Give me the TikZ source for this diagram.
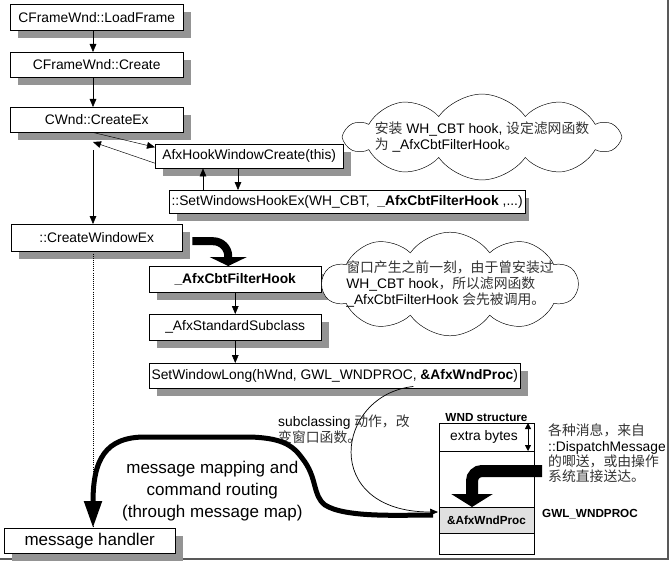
\documentclass[tikz,border=0pt]{standalone}
\usepackage{fontspec}
\setmainfont{Liberation Sans}
\newfontfamily\cjk{Noto Sans CJK SC}
\usetikzlibrary{arrows.meta,shapes.symbols,positioning}

\newcommand{\zh}[1]{{\cjk\color{black!80}#1}}
% shadow of a box: \boxshadow{x1}{y1}{x2}{y2}
\newcommand{\boxshadow}[4]{\fill[black!42] (#1+8,#2+8) rectangle (#3+8,#4+8);}

\begin{document}
\begin{tikzpicture}[x=0.03cm, y=-0.03cm, font=\fontsize{11.8}{13.6}\selectfont,
  fn/.style={draw, fill=white, inner xsep=2pt, inner ysep=0pt, anchor=north west},
  arr/.style={-{Triangle[length=0.24cm, width=0.2cm]}},
  fat/.style={line width=0.24cm, rounded corners=0.45cm, -{Triangle[length=0.27cm, width=1.11cm]}},
  hand/.style={line width=0.15cm, -{Triangle[length=0.81cm, width=0.51cm]}},
  note/.style={cloud, draw, fill=white, cloud puffs=10, cloud puff arc=110, cloud ignores aspect, align=left, inner ysep=0pt},
  row/.style={draw, minimum width=2.85cm, inner sep=0pt, outer sep=0pt}]
  \useasboundingbox (0,0) rectangle (671,563);
  \draw[black!65, line width=0.08cm] (0,559) -- (668,559) -- (668,0);

  % call chain
  \boxshadow{10}{4}{183}{30}
  \node[fn, minimum width=5.19cm, minimum height=0.78cm] (lf) at (10,4) {CFrameWnd::LoadFrame};
  \boxshadow{10}{52}{183}{77}
  \node[fn, minimum width=5.19cm, minimum height=0.75cm] (cr) at (10,52) {CFrameWnd::Create};
  \boxshadow{10}{107}{183}{132}
  \node[fn, minimum width=5.19cm, minimum height=0.75cm] (cx) at (10,107) {CWnd::CreateEx};
  \boxshadow{155}{144}{343}{168}
  \node[fn, minimum width=5.64cm, minimum height=0.72cm] (hk) at (155,144) {AfxHookWindowCreate(this)};
  \boxshadow{169}{190}{521}{213}
  \node[fn, minimum width=10.56cm, minimum height=0.69cm] (sw) at (169,190) {::SetWindowsHookEx(WH\_CBT,\ \ \textbf{\_AfxCbtFilterHook} ,...)};
  \boxshadow{11}{224}{182}{251}
  \node[fn, minimum width=5.13cm, minimum height=0.81cm] (cw) at (11,224) {::CreateWindowEx};
  \boxshadow{149}{266}{321}{292}
  \node[fn, minimum width=5.16cm, minimum height=0.78cm] (fh) at (149,266) {\textbf{\_AfxCbtFilterHook}};
  \boxshadow{149}{314}{321}{340}
  \node[fn, minimum width=5.16cm, minimum height=0.78cm] (ss) at (149,314) {\_AfxStandardSubclass};
  \boxshadow{149}{363}{520}{388}
  \node[fn, minimum width=11.13cm, minimum height=0.75cm] (sl) at (149,363) {SetWindowLong(hWnd, GWL\_WNDPROC, \textbf{\&AfxWndProc})};
  \boxshadow{4}{528}{175}{553}
  \node[fn, minimum width=5.13cm, minimum height=0.75cm, font=\fontsize{14.5}{16.5}\selectfont] (mh) at (4,528) {message handler};

  % notes
  \node[note, inner xsep=-7pt, minimum height=1.75cm] (n1) at (482,137)
    {\zh{安装} WH\_CBT hook, \zh{设定滤网函数}\\\zh{为} \_AfxCbtFilterHook\zh{。}};
  \node[note, inner xsep=-11pt, minimum height=2.8cm] (n2) at (450,284)
    {\zh{窗口产生之前一刻，由于曾安装过}\\WH\_CBT hook\zh{，所以滤网函数}\\\_AfxCbtFilterHook \zh{会先被调用。}};
  \node[anchor=north west, align=left, inner sep=0pt] (sc) at (278,415)
    {subclassing \zh{动作，改}\\\zh{变窗口函数。}};
  \node[anchor=west, font=\fontsize{14.5}{19}\selectfont, align=center] (mm) at (118,491)
    {message mapping and\\command routing\\(through message map)};

  % WND structure
  \node[row, minimum height=0.84cm, anchor=north west] (xb) at (439,423) {};
  \node[row, minimum height=1.68cm, below=0pt of xb] (gp) {};
  \node[row, minimum height=0.78cm, fill=black!12, below=0pt of gp, font=\bfseries] (wp) {\&AfxWndProc};
  \node[row, minimum height=0.63cm, below=0pt of wp] (tl) {};
  \node[above=0pt of xb, font=\bfseries, inner sep=1pt] (ws) {WND structure};
  \node[anchor=east, inner sep=0pt] (eb) at ([xshift=-0.48cm]xb.east) {extra bytes};
  \node[anchor=west, font=\bfseries] (gw) at (538,514) {GWL\_WNDPROC};
  \node[anchor=north west, align=left, inner sep=0pt, font=\fontsize{11.8}{13}\selectfont] (dm) at (548,424)
    {\zh{各种消息，来自}\\::DispatchMessage\\\zh{的唧送，或由操作}\\\zh{系统直接送达。}};

  \coordinate (col) at (93,0);
  \coordinate (up) at (203,0);
  \coordinate (dn) at (238,0);
  \coordinate (ret) at (93,142);
  \coordinate (back) at (93,150);
  \coordinate (msgin) at (542,471);

  \draw[arr] (lf.south -| col) -- (cr.north -| col);
  \draw[arr] (cr.south -| col) -- (cx.north -| col);
  \draw[arr] (cx.south -| col) -- ([yshift=0.27cm]hk.west);
  \draw[arr] ([yshift=-0.21cm]hk.west) -- (ret);
  \draw[arr] (back) -- (cw.north -| col);
  \draw[arr] (sw.north -| up) -- (hk.south -| up);
  \draw[arr] (hk.south -| dn) -- (sw.north -| dn);
  \draw[fat] ([xshift=0.3cm, yshift=-0.105cm]cw.east) -| ([xshift=-0.21cm]fh.north);
  \draw[arr] (fh.south -| ss.north) -- (ss.north);
  \draw[arr] (ss.south) -- (ss.south |- sl.north);
  \draw[densely dotted, thick] (cw.south -| col) -- (mh.north -| col);
  \draw[arr, semithick] ([xshift=2.355cm, yshift=0.06cm]sl.south) .. controls (335,395) and (320,512) .. ([xshift=-0.03cm, yshift=0.24cm]wp.west);
  \draw[hand] ([xshift=-0.18cm, yshift=0.15cm]wp.west) .. controls (400,515) and (345,518) .. (325,505)
    .. controls (312,495) and (318,478) .. (302,458) .. controls (292,444) and (280,438) .. (250,437)
    -- (145,437) .. controls (105,437) and (93,460) .. (mh.north -| col);
  \draw[line width=0.36cm, rounded corners=0.3cm, -{Triangle[length=0.39cm, width=1.23cm]}] (msgin) -| ([xshift=-0.435cm]wp.north);
  \draw[{Triangle[length=0.18cm, width=0.18cm]}-{Triangle[length=0.18cm, width=0.18cm]}] ([xshift=-0.18cm]xb.north east) -- ([xshift=-0.18cm]xb.south east);
\end{tikzpicture}
\end{document}
